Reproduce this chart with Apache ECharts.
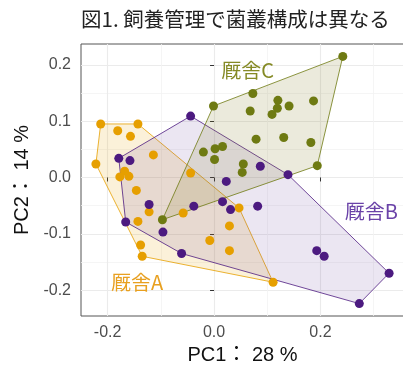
<!DOCTYPE html>
<html><head><meta charset="utf-8">
<script src="https://cdn.jsdelivr.net/npm/echarts@6/dist/echarts.min.js"></script>
<style>html,body{margin:0;padding:0;background:#fff}#c{width:403px;height:369px}</style>
</head><body><div id="c"></div>
<script>
// 厩舎A
const xA = [-0.213,-0.143,-0.181,-0.157,-0.114,-0.222,-0.168,-0.177,-0.160,-0.044,-0.146,-0.122,-0.143,-0.058,-0.138,-0.135,0.047,0.029,-0.008,0.029,0.111];
const yA = [0.095,0.095,0.083,0.073,0.040,0.024,0.011,0.001,0.002,0.008,-0.023,-0.061,-0.078,-0.063,-0.120,-0.140,-0.054,-0.086,-0.112,-0.130,-0.186];
// 厩舎B
const xB = [-0.044,-0.179,-0.158,0.023,0.087,0.139,-0.122,-0.038,0.016,0.031,0.082,-0.166,-0.096,-0.061,0.193,0.207,0.329,0.273];
const yB = [0.109,0.034,0.030,-0.007,0.020,0.005,-0.048,-0.051,-0.043,-0.057,-0.051,-0.079,-0.097,-0.135,-0.130,-0.140,-0.170,-0.224];
// 厩舎C
const xC = [0.242,-0.001,0.073,0.120,0.119,0.109,0.141,0.187,0.068,0.079,0.131,0.182,0.194,-0.020,0.002,0.016,0.001,0.055,0.053,-0.097];
const yC = [0.215,0.127,0.149,0.137,0.123,0.112,0.127,0.136,0.118,0.068,0.071,0.062,0.021,0.045,0.051,0.055,0.032,0.024,0.009,-0.075];

const groupNames = ['厩舎A','厩舎B','厩舎C'];
const labelX = [-0.1446, 0.2955, 0.0633];
const labelY = [-0.1865, -0.0598, 0.190];

const xMajor = [-0.2, 0.0, 0.2];
const xMinor = [-0.1, 0.1, 0.3];
const yMajor = [-0.2, -0.1, 0.0, 0.1, 0.2];
const yMinor = [-0.15, -0.05, 0.05, 0.15];

const colors = ['#E69F00', '#4C1A80', '#6E7A12'];
const fills = ['rgba(230,159,0,0.15)', 'rgba(92,50,150,0.12)', 'rgba(130,125,40,0.16)'];
const labelColors = ['#E8A020', '#6A42A8', '#858A25'];

function zip(xs, ys){ return xs.map((x,i)=>[x, ys[i]]); }
function hull(pts){
  const p = pts.slice().sort((a,b)=>a[0]-b[0]||a[1]-b[1]);
  const cross=(o,a,b)=>(a[0]-o[0])*(b[1]-o[1])-(a[1]-o[1])*(b[0]-o[0]);
  const lo=[], up=[];
  for(const q of p){ while(lo.length>=2 && cross(lo[lo.length-2],lo[lo.length-1],q)<=0) lo.pop(); lo.push(q); }
  for(let i=p.length-1;i>=0;i--){ const q=p[i]; while(up.length>=2 && cross(up[up.length-2],up[up.length-1],q)<=0) up.pop(); up.push(q); }
  up.pop(); lo.pop(); return lo.concat(up);
}
const groups = [zip(xA,yA), zip(xB,yB), zip(xC,yC)];

const font = "'Liberation Sans','Noto Sans CJK JP',sans-serif";
const series = [];
groups.forEach((g, i) => {
  const h = hull(g);
  series.push({
    type: 'custom', xAxisIndex: 0, yAxisIndex: 0, z: 2, silent: true,
    data: [h[0]],
    renderItem: function(params, api){
      return { type: 'polygon', shape: { points: h.map(p => api.coord(p)) },
        style: { fill: fills[i], stroke: colors[i], lineWidth: 0.8 } };
    }
  });
});
groups.forEach((g, i) => {
  series.push({ type: 'scatter', xAxisIndex: 0, yAxisIndex: 0, z: 3, data: g, symbolSize: 9,
    itemStyle: { color: colors[i], opacity: 1 }, silent: true });
});
series.push({
  type: 'custom', xAxisIndex: 0, yAxisIndex: 0, z: 4, silent: true,
  data: labelX.map((x,i)=>[x, labelY[i], i]),
  renderItem: function(params, api){
    const i = api.value(2);
    const c = api.coord([api.value(0), api.value(1)]);
    return { type: 'text', x: c[0], y: c[1], style: { text: groupNames[i], fill: labelColors[i],
      font: "20px 'Noto Sans CJK JP', sans-serif", align: 'center', verticalAlign: 'middle' } };
  }
});

const grid = { left: 81, top: 44, width: 323, height: 272, show: true, borderColor: '#555', borderWidth: 1,
  backgroundColor: '#fff', containLabel: false, outerBoundsMode: 'none' };
const fmt = v => v.toFixed(1);
const option = {
  animation: false,
  title: { text: '図1. 飼養管理で菌叢構成は異なる', left: 81, top: 9, padding: 0,
    textStyle: { fontFamily: "'Noto Sans CJK JP',sans-serif", fontSize: 20.5, fontWeight: 'normal', color: '#222' } },
  grid: grid,
  xAxis: [
    { type: 'value', min: -0.25, max: 0.357, position: 'bottom',
      axisLine: { show: false },
      axisTick: { show: true, length: 4, customValues: xMajor, lineStyle: { color: '#333' } },
      axisLabel: { customValues: xMajor, formatter: fmt, fontSize: 16, color: '#4D4D4D', margin: 9, fontFamily: font },
      splitLine: { show: true, lineStyle: { color: '#EBEBEB', width: 1.1 } },
      name: 'PC1： 28 %', nameLocation: 'middle', nameGap: 29,
      nameTextStyle: { fontSize: 20, color: '#111', fontFamily: font } },
    { type: 'value', min: -0.25, max: 0.357, position: 'bottom', show: true,
      axisLine: { show: false }, axisLabel: { show: false },
      axisTick: { show: false, customValues: xMinor },
      splitLine: { show: true, lineStyle: { color: '#F2F2F2', width: 0.8 } } }
  ],
  yAxis: [
    { type: 'value', min: -0.246, max: 0.237,
      axisLine: { show: false },
      axisTick: { show: true, length: 4, customValues: yMajor, lineStyle: { color: '#333' } },
      axisLabel: { customValues: yMajor, formatter: fmt, fontSize: 16, color: '#4D4D4D', margin: 10, fontFamily: font },
      splitLine: { show: true, lineStyle: { color: '#EBEBEB', width: 1.1 } },
      name: 'PC2： 14 %', nameLocation: 'middle', nameGap: 46, nameRotate: 90,
      nameTextStyle: { fontSize: 20, color: '#111', fontFamily: font } },
    { type: 'value', min: -0.246, max: 0.237, show: true,
      axisLine: { show: false }, axisLabel: { show: false },
      axisTick: { show: false, customValues: yMinor },
      splitLine: { show: true, lineStyle: { color: '#F2F2F2', width: 0.8 } } }
  ],
  series: series
};
const chart = echarts.init(document.getElementById('c'), null, { renderer: 'canvas' });
chart.setOption(option);
</script></body></html>
